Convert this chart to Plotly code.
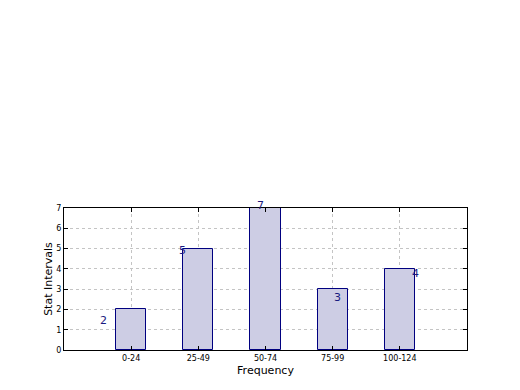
import plotly.graph_objects as go

categories = ["0-24", "25-49", "50-74", "75-99", "100-124"]
values = [2, 5, 7, 3, 4]
label_xshift = [-28, -16, -5, 5, 16]
label_yshift = [-11, -2, 3, -8, -5]

xs = list(range(len(categories)))

fig = go.Figure()
fig.add_trace(go.Bar(
    x=xs, y=values, width=0.45,
    marker=dict(color="#cdcde4", line=dict(color="#000080", width=1)),
    showlegend=False,
))
for i, v in enumerate(values):
    fig.add_annotation(x=xs[i], y=v, text=str(v), xshift=label_xshift[i],
                       yshift=label_yshift[i], showarrow=False,
                       font=dict(size=11, color="#1a1a80", family="DejaVu Sans"))

axis_common = dict(showline=True, linecolor="black", linewidth=1, mirror="ticks",
                   ticks="inside", ticklen=4, tickcolor="black",
                   showgrid=True, gridcolor="#c4c4c4", griddash="dot", gridwidth=1,
                   zeroline=False, tickfont=dict(size=8, family="DejaVu Sans", color="black"))

fig.update_xaxes(range=[-1, 5], tickvals=xs, ticktext=categories,
                 title=dict(text="Frequency", font=dict(size=11, family="DejaVu Sans", color="black"), standoff=4),
                 **axis_common)
fig.update_yaxes(range=[0, 7], dtick=1,
                 title=dict(text="Stat Intervals", font=dict(size=11, family="DejaVu Sans", color="black"), standoff=1),
                 **axis_common)

fig.update_layout(width=520, height=390, margin=dict(l=64, r=53, t=208, b=40),
                  paper_bgcolor="white", plot_bgcolor="white", bargap=0)
fig.write_html("out.html")
